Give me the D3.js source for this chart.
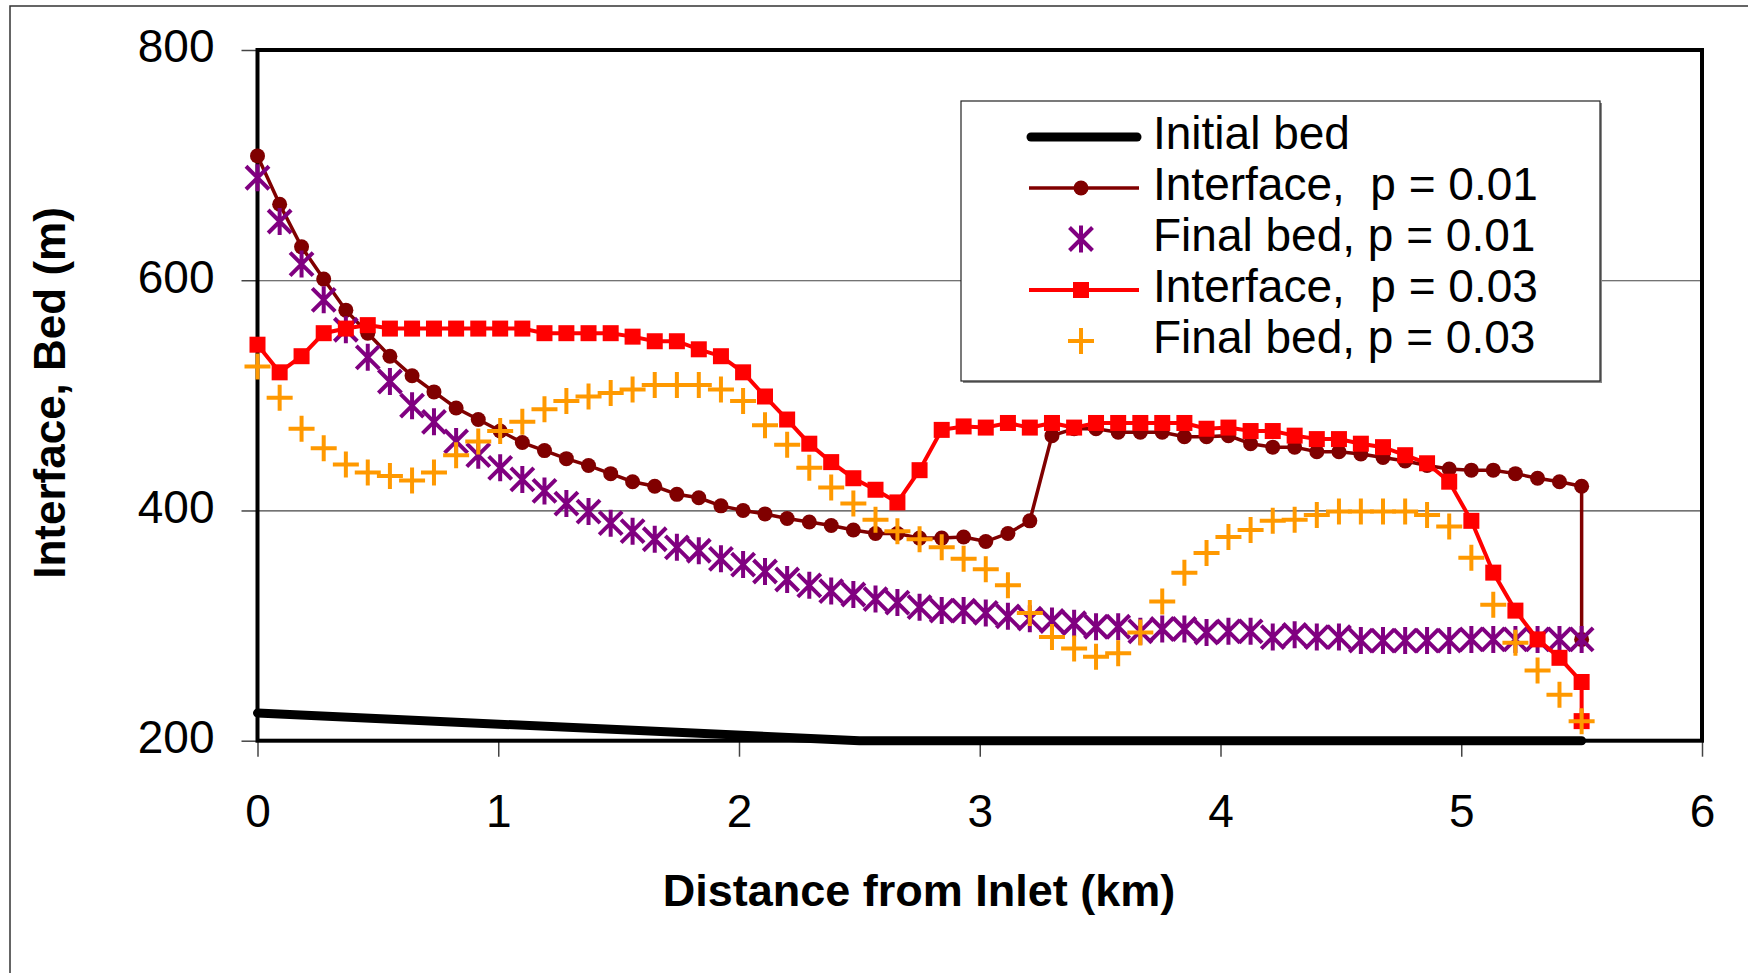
<!DOCTYPE html>
<html>
<head>
<meta charset="utf-8">
<script src="https://cdn.jsdelivr.net/npm/d3@7"></script>
<style>
  html, body { margin: 0; padding: 0; background: #fff; }
  svg { display: block; font-family: "Liberation Sans", Arial, sans-serif; }
</style>
</head>
<body>
<svg id="chart" width="1748" height="973"></svg>
<script>
// distance from inlet (km), one node every 5.5/60 km
const distance = [
  0, 0.092, 0.183, 0.275, 0.367, 0.458, 0.55, 0.642, 0.733, 0.825,
  0.917, 1.008, 1.1, 1.192, 1.283, 1.375, 1.467, 1.558, 1.65, 1.742,
  1.833, 1.925, 2.017, 2.108, 2.2, 2.292, 2.383, 2.475, 2.567, 2.658,
  2.75, 2.842, 2.933, 3.025, 3.117, 3.208, 3.3, 3.392, 3.483, 3.575,
  3.667, 3.758, 3.85, 3.942, 4.033, 4.125, 4.217, 4.308, 4.4, 4.492,
  4.583, 4.675, 4.767, 4.858, 4.95, 5.042, 5.133, 5.225, 5.317, 5.408,
  5.5
]
// interface series have one more point: a drop at the outlet
const interfaceDistance = distance.concat([5.5])

const initialBedX = [0, 2.5, 5.5]
const initialBed = [224, 200, 200]

const interfaceP01 = [
  708, 666, 629, 601, 574, 554, 534, 517, 503, 489,
  479, 469, 459, 452, 445, 439, 432, 425, 421, 414,
  411, 404, 400, 397, 393, 390, 387, 383, 380, 380,
  376, 376, 377, 373, 380, 391, 465, 471, 471, 468,
  468, 468, 464, 464, 465, 458, 455, 455, 451, 451,
  449, 446, 443, 439, 436, 435, 435, 432, 428, 425,
  421, 288
]
const finalP01 = [
  689, 651, 614, 583, 557, 533, 512, 491, 477, 460,
  448, 437, 427, 417, 406, 399, 389, 382, 375, 368,
  365, 358, 353, 347, 340, 335, 330, 327, 323, 320,
  316, 313, 313, 311, 308, 306, 304, 302, 299, 299,
  295, 297, 297, 294, 295, 295, 290, 292, 290, 290,
  287, 287, 287, 287, 287, 288, 288, 288, 288, 288,
  288
]
const interfaceP03 = [
  544, 520, 534, 554, 558, 561, 558, 558, 558, 558,
  558, 558, 558, 554, 554, 554, 554, 551, 547, 547,
  540, 534, 520, 499, 479, 458, 442, 428, 418, 407,
  435, 470, 473, 472, 476, 472, 476, 472, 476, 476,
  476, 476, 476, 471, 472, 469, 469, 465, 462, 462,
  458, 455, 448, 441, 425, 391, 346, 313, 288, 272,
  251, 217
]
const finalP03 = [
  525, 498, 471, 454, 440, 433, 430, 426, 433, 448,
  460, 469, 477, 488, 495, 499, 502, 505, 509, 509,
  509, 505, 495, 474, 457, 437, 420, 406, 392, 382,
  375, 368, 358, 349, 335, 311, 290, 280, 273, 276,
  294, 321, 346, 363, 377, 383, 391, 392, 396, 399,
  399, 399, 399, 396, 386, 359, 318, 285, 261, 240,
  217
]

const xTicks = [0, 1, 2, 3, 4, 5, 6]
const yTicks = [200, 400, 600, 800]
const legendLabels = [
  'Initial bed',
  'Interface,\u00a0 p = 0.01',
  'Final bed, p = 0.01',
  'Interface,\u00a0 p = 0.03',
  'Final bed, p = 0.03'
]

const colors = { initial: '#000000', interface01: '#800000', final01: '#800080', interface03: '#ff0000', final03: '#ff9900' }
const starPath = 'M-11.5,-11.5L11.5,11.5M-11.5,11.5L11.5,-11.5M0,-13.5L0,13.5'
const plusPath = 'M-13,0L13,0M0,-13L0,13'

const svg = d3.select('#chart')

// outer chart border (runs off the page to the right and bottom)
svg.append('rect')
  .attr('x', 10).attr('y', 6)
  .attr('width', 1800).attr('height', 1000)
  .attr('fill', 'none')
  .attr('stroke', '#333').attr('stroke-width', 1.5)

const marginLeft = 257.5, marginTop = 50
const width = 1444.5, height = 690.7

const chart = svg.append('g').attr('transform', `translate(${marginLeft}, ${marginTop})`)

const xScale = d3.scaleLinear().domain([0, 6]).range([0, width])
const yScale = d3.scaleLinear().domain([200, 800]).range([height, 0])

// grid lines
chart.append('g')
  .call(d3.axisLeft(yScale).tickValues(yTicks).tickSize(-width).tickFormat(''))
  .call(g => g.select('.domain').remove())
  .call(g => g.selectAll('line').attr('stroke', '#444').attr('stroke-width', 1.2))

// y axis
chart.append('g')
  .call(d3.axisLeft(yScale).tickValues(yTicks).tickSize(16).tickPadding(27).tickFormat(d3.format('d')))
  .call(g => g.select('.domain').remove())
  .call(g => g.selectAll('line').attr('stroke', '#444').attr('stroke-width', 1.5))
  .call(g => g.selectAll('text')
    .attr('font-size', 46).attr('fill', '#000')
    .attr('font-family', '"Liberation Sans", Arial, sans-serif')
    .attr('dy', '0.26em'))

// x axis
chart.append('g')
  .attr('transform', `translate(0, ${height})`)
  .call(d3.axisBottom(xScale).tickValues(xTicks).tickSize(16).tickPadding(38).tickFormat(d3.format('d')))
  .call(g => g.select('.domain').remove())
  .call(g => g.selectAll('line').attr('stroke', '#444').attr('stroke-width', 1.5))
  .call(g => g.selectAll('text')
    .attr('font-size', 46).attr('fill', '#000')
    .attr('font-family', '"Liberation Sans", Arial, sans-serif'))

// plot frame
chart.append('rect')
  .attr('x', 0).attr('y', 0)
  .attr('width', width).attr('height', height)
  .attr('fill', 'none')
  .attr('stroke', '#000').attr('stroke-width', 4)

const line = d3.line().x(d => xScale(d[0])).y(d => yScale(d[1]))

// initial bed
chart.append('path')
  .datum(initialBed.map((v, i) => [initialBedX[i], v]))
  .attr('d', line)
  .attr('fill', 'none')
  .attr('stroke', colors.initial)
  .attr('stroke-width', 9)
  .attr('stroke-linecap', 'round')

// interface p = 0.01
const int01 = interfaceP01.map((v, i) => [interfaceDistance[i], v])
chart.append('path')
  .datum(int01)
  .attr('d', line)
  .attr('fill', 'none')
  .attr('stroke', colors.interface01)
  .attr('stroke-width', 3.5)
chart.selectAll()
  .data(int01)
  .enter()
  .append('circle')
  .attr('cx', d => xScale(d[0]))
  .attr('cy', d => yScale(d[1]))
  .attr('r', 7.5)
  .attr('fill', colors.interface01)

// final bed p = 0.01
chart.selectAll()
  .data(finalP01.map((v, i) => [distance[i], v]))
  .enter()
  .append('path')
  .attr('transform', d => `translate(${xScale(d[0])}, ${yScale(d[1])})`)
  .attr('d', starPath)
  .attr('fill', 'none')
  .attr('stroke', colors.final01)
  .attr('stroke-width', 4)

// interface p = 0.03
const int03 = interfaceP03.map((v, i) => [interfaceDistance[i], v])
chart.append('path')
  .datum(int03)
  .attr('d', line)
  .attr('fill', 'none')
  .attr('stroke', colors.interface03)
  .attr('stroke-width', 4)
chart.selectAll()
  .data(int03)
  .enter()
  .append('rect')
  .attr('x', d => xScale(d[0]) - 8)
  .attr('y', d => yScale(d[1]) - 8)
  .attr('width', 16)
  .attr('height', 16)
  .attr('fill', colors.interface03)

// final bed p = 0.03
chart.selectAll()
  .data(finalP03.map((v, i) => [distance[i], v]))
  .enter()
  .append('path')
  .attr('transform', d => `translate(${xScale(d[0])}, ${yScale(d[1])})`)
  .attr('d', plusPath)
  .attr('fill', 'none')
  .attr('stroke', colors.final03)
  .attr('stroke-width', 4)

// axis titles
svg.append('text')
  .attr('x', 919)
  .attr('y', 906)
  .attr('text-anchor', 'middle')
  .attr('font-size', 45)
  .attr('font-weight', 'bold')
  .text('Distance from Inlet (km)')

svg.append('text')
  .attr('transform', 'translate(65, 393) rotate(-90)')
  .attr('text-anchor', 'middle')
  .attr('font-size', 44)
  .attr('font-weight', 'bold')
  .text('Interface, Bed (m)')

// legend
const legend = svg.append('g')
legend.append('rect')
  .attr('x', 963).attr('y', 103)
  .attr('width', 639).attr('height', 280)
  .attr('fill', '#888')
legend.append('rect')
  .attr('x', 961).attr('y', 101)
  .attr('width', 639).attr('height', 280)
  .attr('fill', '#fff')
  .attr('stroke', '#222').attr('stroke-width', 1.2)

const rowY = d3.scaleLinear().domain([0, 4]).range([149, 353])
const symX = 1081

legendLabels.forEach((label, i) => {
  const cy = rowY(i) - 12
  if (i === 0) {
    legend.append('line')
      .attr('x1', 1031).attr('x2', 1137).attr('y1', cy).attr('y2', cy)
      .attr('stroke', colors.initial).attr('stroke-width', 9).attr('stroke-linecap', 'round')
  } else if (i === 1) {
    legend.append('line')
      .attr('x1', 1029).attr('x2', 1139).attr('y1', cy).attr('y2', cy)
      .attr('stroke', colors.interface01).attr('stroke-width', 3.5)
    legend.append('circle').attr('cx', symX).attr('cy', cy).attr('r', 7.5).attr('fill', colors.interface01)
  } else if (i === 2) {
    legend.append('path')
      .attr('transform', `translate(${symX}, ${cy})`)
      .attr('d', starPath).attr('fill', 'none')
      .attr('stroke', colors.final01).attr('stroke-width', 4)
  } else if (i === 3) {
    legend.append('line')
      .attr('x1', 1029).attr('x2', 1139).attr('y1', cy).attr('y2', cy)
      .attr('stroke', colors.interface03).attr('stroke-width', 4)
    legend.append('rect').attr('x', symX - 8).attr('y', cy - 8)
      .attr('width', 16).attr('height', 16).attr('fill', colors.interface03)
  } else {
    legend.append('path')
      .attr('transform', `translate(${symX}, ${cy})`)
      .attr('d', plusPath).attr('fill', 'none')
      .attr('stroke', colors.final03).attr('stroke-width', 4)
  }
  legend.append('text')
    .attr('x', 1153)
    .attr('y', rowY(i))
    .attr('font-size', 46)
    .text(label)
})
</script>
</body>
</html>
